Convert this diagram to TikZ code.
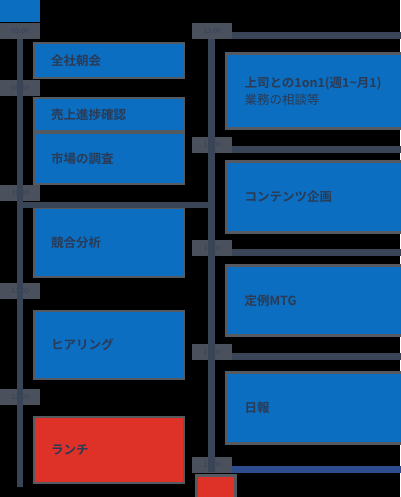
\documentclass[tikz,border=0pt]{standalone}
\usepackage{fontspec}
\usepackage{xcolor}
\newfontfamily\jpfont{Noto Sans CJK JP}[BoldFont={Noto Sans CJK JP Bold}]
\usetikzlibrary{arrows,shapes,calc,positioning}
\definecolor{planblue}{HTML}{0B6EC0}
\definecolor{planred}{HTML}{DE3127}
\definecolor{planink}{HTML}{2B3A55}
\definecolor{rimgray}{HTML}{555A60}
\definecolor{tagfill}{HTML}{4B515C}
\definecolor{tagink}{HTML}{33405E}
\definecolor{railgray}{HTML}{3A4457}
\definecolor{endblue}{HTML}{2D4D8F}

\begin{document}
\begin{tikzpicture}[x=1pt, y=-1pt]
		\tikzstyle{every node}=[font=\jpfont\bfseries\fontsize{12.5}{17}\selectfont, text=planink]
		\tikzstyle{tag}=[fill=tagfill, anchor=north west, minimum width=40pt, minimum height=16pt, inner sep=0pt, font=\jpfont\fontsize{7}{8}\selectfont, text=tagink]
		\tikzstyle{leftbox}=[fill=planblue, draw=rimgray, line width=2pt, anchor=north west, minimum width=150pt, text width=116pt, inner xsep=17pt, align=left]
		\tikzstyle{rightbox}=[fill=planblue, draw=rimgray, line width=3pt, anchor=north west, minimum width=185pt, text width=149pt, inner xsep=18pt, align=left]
		\tikzstyle{rail}=[line width=6.5pt, draw=railgray]
		\useasboundingbox (0,0) rectangle (400,497);
		\fill [black] (0,0) rectangle (400,497);
		% rails
		\coordinate (lbottom) at (20,487);
		\coordinate (rbottom) at (211.5,472);
		\fill [planblue] (0,0) rectangle (40,22);
		% left column
		\node [tag] (lt1) at (0,23) {09:00};
		\node [tag] (lt2) at (0,80) {09:30};
		\node [tag] (lt3) at (0,185) {10:30};
		\node [tag] (lt4) at (0,283) {11:00};
		\node [tag] (lt5) at (0,389) {12:00};
		\draw [rail] (lt1.south -| lbottom) -- (lbottom);
		\node [leftbox, minimum height=35pt] (asakai) at (33,42) {全社朝会};
		\node [leftbox, minimum height=33pt] (uriage) at (33,97) {売上進捗確認};
		\node [leftbox, minimum height=51pt] (shijo) at (33,132) {市場の調査};
		\node [leftbox, minimum height=69pt] (kyogo) at (33,207) {競合分析};
		\node [leftbox, minimum height=68pt] (hearing) at (33,310) {ヒアリング};
		\node [leftbox, minimum height=66pt, fill=planred] (lunch) at (33,416) {ランチ};
		% right column
		\node [tag] (rt1) at (192,23) {13:00};
		\node [tag] (rt2) at (192,137) {14:00};
		\node [tag] (rt3) at (192,240) {16:00};
		\node [tag] (rt4) at (192,344) {17:00};
		\node [tag] (rt5) at (192,457) {18:00};
		\draw [rail] (rt1.south -| rbottom) -- (rbottom);
		\draw [rail] ([yshift=-3.5pt]lt3.south -| lbottom) -- ([yshift=-3.5pt]lt3.south -| rbottom);
		\foreach \t in {rt1,rt2,rt3,rt4}
			\draw [rail, line width=7pt] ([yshift=3.5pt]\t.south east) -- ++(170,0);
		\draw [rail, line width=7pt, draw=endblue] ([yshift=3.5pt]rt5.south east) -- ++(170,0);
		\node [rightbox, minimum height=75pt] (oneonone) at (225,52) {上司との1on1(週1\textasciitilde 月1)\\\mdseries 業務の相談等};
		\node [rightbox, minimum height=71pt] (content) at (225,160) {コンテンツ企画};
		\node [rightbox, minimum height=70pt] (teirei) at (225,264) {定例MTG};
		\node [rightbox, minimum height=71pt] (nippo) at (225,371) {日報};
		\node [fill=planred, draw=rimgray, line width=3pt, anchor=north west, minimum width=39pt, minimum height=26pt, inner sep=0pt] (endmark) at (195,474) {};
\end{tikzpicture}
\end{document}
